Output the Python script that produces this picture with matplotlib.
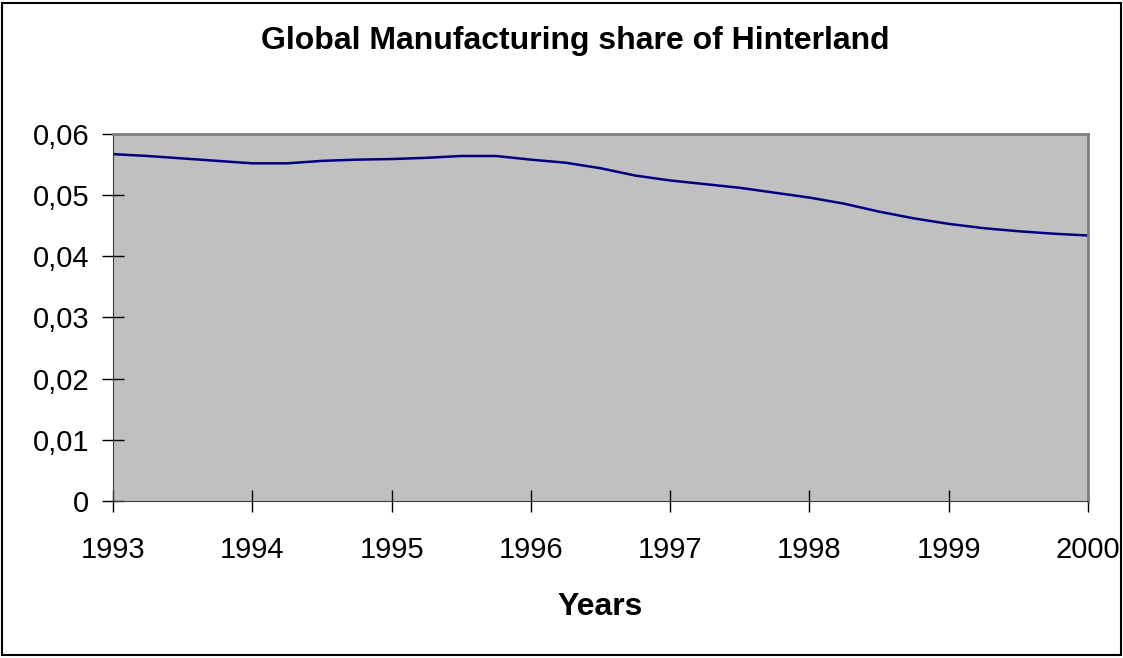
import matplotlib.pyplot as plt
from matplotlib.patches import Rectangle
from matplotlib.ticker import FuncFormatter

plt.rcParams['font.family'] = ['Liberation Sans', 'DejaVu Sans']

# quarterly observations, 1993Q1 .. 2000Q1
years = [1993 + q / 4 for q in range(29)]
share = [0.0567, 0.0564, 0.0560, 0.0556, 0.0552, 0.0552, 0.0556, 0.0558,
         0.0559, 0.0561, 0.0564, 0.0564, 0.0558, 0.0553, 0.0544, 0.0532,
         0.0524, 0.0518, 0.0512, 0.0504, 0.0496, 0.0486, 0.0473, 0.0462,
         0.0453, 0.0446, 0.0441, 0.0437, 0.0434]
year_ticks = [1993, 1994, 1995, 1996, 1997, 1998, 1999, 2000]
y_ticks = [0, 0.01, 0.02, 0.03, 0.04, 0.05, 0.06]

fig = plt.figure(figsize=(11.23, 6.58), dpi=100)
fig.patches.append(Rectangle((0.002, 0.004), 0.996, 0.992, transform=fig.transFigure,
                             fill=False, edgecolor='black', linewidth=1.5))

ax = fig.add_axes([0.1006, 0.2386, 0.8683, 0.5578])
ax.set_facecolor('#C0C0C0')
ax.plot(years, share, color='#000080', linewidth=1.8)

ax.set_xlim(1993, 2000)
ax.set_ylim(0, 0.06)
ax.set_xticks(year_ticks)
ax.set_yticks(y_ticks)
ax.yaxis.set_major_formatter(FuncFormatter(
    lambda v, p: '0' if v == 0 else ('%.2f' % v).replace('.', ',')))
ax.tick_params(direction='inout', length=16, width=1, labelsize=21, colors='black')
ax.tick_params(axis='x', pad=17)
ax.tick_params(axis='y', pad=9)

for s in ['left', 'bottom']:
    ax.spines[s].set_color('#404040')
for s in ['top', 'right']:
    ax.spines[s].set_color('#808080')
    ax.spines[s].set_linewidth(2)

ax.set_xlabel('Years', fontsize=23, fontweight='bold', labelpad=20)
fig.text(0.512, 0.938, 'Global Manufacturing share of Hinterland', ha='center', va='center',
         fontsize=23, fontweight='bold')

fig.savefig('out.png', dpi=100)
plt.close()
